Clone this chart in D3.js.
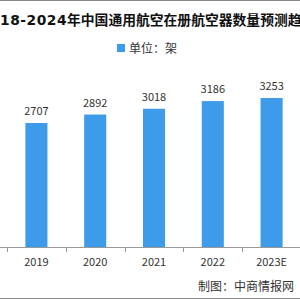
<!DOCTYPE html>
<html>
<head>
<meta charset="utf-8">
<script src="https://cdn.jsdelivr.net/npm/d3@7"></script>
<style>
  body { margin: 0; background: #fff; }
  svg { display: block; font-family: "Noto Sans CJK SC", "Noto Sans", sans-serif; }
</style>
</head>
<body>
<div id="chart"></div>
<script>
// datos visibles en el recorte
const years = ["2019", "2020", "2021", "2022", "2023E"];
const counts = [2707, 2892, 3018, 3186, 3253];
const titlePrefix = "2018-2024";
const titleRest = "年中国通用航空在册航空器数量预测趋势图";
const legendText = "单位：架";
const sourceText = "制图：中商情报网";

const width = 300;
const height = 300;
const baseY = 247;

const svg = d3.select("#chart")
    .append("svg")
    .attr("width", width)
    .attr("height", height);

// escalas
const x = d3.scaleBand()
    .domain(years)
    .range([7, 301])
    .paddingInner(0.625)
    .paddingOuter(0.3125);

const y = d3.scaleLinear()
    .domain([0, 3500])
    .range([baseY, baseY - 160.3]);

// marcos arriba / abajo
svg.append("line").attr("x1", 0).attr("x2", width).attr("y1", 0.5).attr("y2", 0.5)
    .attr("stroke", "#888");
svg.append("line").attr("x1", 0).attr("x2", width).attr("y1", 298.5).attr("y2", 298.5)
    .attr("stroke", "#888");

// título recortado: "18-2024" ocupa de x=0 a x≈67
const title = svg.append("text")
    .attr("y", 25)
    .attr("font-size", "13.8px")
    .attr("font-weight", "bold")
    .attr("fill", "#111");
const pre = title.append("tspan")
    .attr("font-family", "\"DejaVu Sans\", sans-serif")
    .text(titlePrefix);
title.append("tspan").text(titleRest);
const preW = pre.node().getComputedTextLength();
const w7 = pre.node().getSubStringLength(2, 7);
const ls = Math.max(0, (67 - w7) / 7);
pre.attr("letter-spacing", ls);
title.attr("x", 67 - (preW + 9 * ls));

// leyenda
svg.append("rect")
    .attr("x", 117).attr("y", 44)
    .attr("width", 8).attr("height", 8)
    .attr("fill", "#3d9be9");
svg.append("text")
    .attr("x", 129).attr("y", 52.5)
    .attr("font-size", "12px")
    .attr("fill", "#333")
    .text(legendText);

// barras
svg.selectAll(".bar")
    .data(years)
    .enter()
    .append("rect")
    .attr("class", "bar")
    .attr("x", d => x(d))
    .attr("width", x.bandwidth())
    .attr("y", (d, i) => y(counts[i]))
    .attr("height", (d, i) => baseY - y(counts[i]))
    .attr("fill", "#3d9be9");

// etiquetas de valor
svg.selectAll(".val")
    .data(years)
    .enter()
    .append("text")
    .attr("class", "val")
    .attr("x", d => x(d) + x.bandwidth() / 2)
    .attr("y", (d, i) => y(counts[i]) - 8)
    .attr("text-anchor", "middle")
    .attr("font-size", "11px")
    .attr("fill", "#333")
    .text((d, i) => counts[i]);

// eje X con marcas entre categorías
const axis = svg.append("g")
    .attr("transform", `translate(0, ${baseY})`)
    .call(d3.axisBottom(x).tickSize(0).tickPadding(11));
axis.select(".domain").remove();
axis.selectAll("text")
    .attr("font-size", "11px")
    .attr("fill", "#333")
    .attr("font-family", "\"Noto Sans CJK SC\", sans-serif");

svg.append("line")
    .attr("x1", 0).attr("x2", width)
    .attr("y1", baseY + 0.5).attr("y2", baseY + 0.5)
    .attr("stroke", "#999");

const bounds = years.map(d => x(d) + x.bandwidth() / 2 - x.step() / 2);
bounds.push(bounds[bounds.length - 1] + x.step());
svg.selectAll(".tk")
    .data(bounds)
    .enter()
    .append("line")
    .attr("class", "tk")
    .attr("x1", d => Math.round(d) + 0.5).attr("x2", d => Math.round(d) + 0.5)
    .attr("y1", baseY).attr("y2", baseY + 5)
    .attr("stroke", "#999");

// fuente
svg.append("text")
    .attr("x", 294)
    .attr("y", 291)
    .attr("text-anchor", "end")
    .attr("font-size", "12px")
    .attr("fill", "#333")
    .text(sourceText);
</script>
</body>
</html>
